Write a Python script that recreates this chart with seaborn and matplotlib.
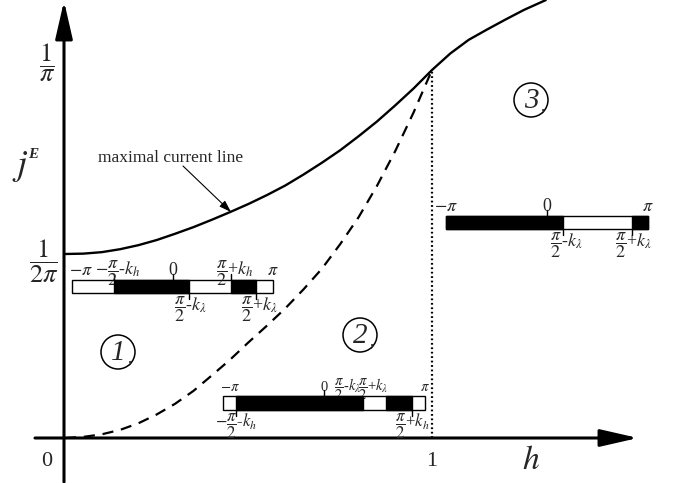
import numpy as np
import pandas as pd
import matplotlib
matplotlib.use("Agg")
import matplotlib.pyplot as plt
import seaborn as sns
from matplotlib.patches import Rectangle, Circle

# curves, j in units of 1/pi
h_dashed = [0.0, 0.05, 0.1, 0.15, 0.2, 0.25, 0.3, 0.35, 0.4, 0.45, 0.5,
            0.55, 0.6, 0.65, 0.7, 0.75, 0.8, 0.85, 0.9, 0.95, 1.0]
j_dashed = [0.0, 0.003, 0.01, 0.022, 0.04, 0.064, 0.093, 0.128, 0.17, 0.213, 0.26,
            0.305, 0.352, 0.404, 0.46, 0.527, 0.6, 0.685, 0.78, 0.885, 1.0]
h_solid = [0.0, 0.05, 0.1, 0.15, 0.2, 0.25, 0.3, 0.35, 0.4, 0.45, 0.5,
           0.55, 0.6, 0.65, 0.7, 0.75, 0.8, 0.85, 0.9, 0.95, 1.0,
           1.05, 1.1, 1.15, 1.2, 1.25, 1.31]
j_solid = [0.5, 0.501, 0.505, 0.513, 0.524, 0.538, 0.555, 0.573, 0.593, 0.614, 0.636,
           0.66, 0.686, 0.716, 0.748, 0.782, 0.82, 0.86, 0.904, 0.95, 1.0,
           1.045, 1.082, 1.11, 1.137, 1.163, 1.19]

# phase diagrams of the three regions
k_h = [0.27, 1.18]            # regions 1, 2
k_lam = [1.05, 0.37, 1.06]    # regions 1, 2, 3

MPI = r"$-\pi$"
PI = r"$\pi$"
ZERO = "0"
L_mh = r"$-\dfrac{\pi}{2}$-$k_h$"
L_ph = r"$\dfrac{\pi}{2}$+$k_h$"
L_ml = r"$\dfrac{\pi}{2}$-$k_\lambda$"
L_pl = r"$\dfrac{\pi}{2}$+$k_\lambda$"

sns.set_theme(style="white")
plt.rcParams["font.family"] = ["Liberation Serif", "DejaVu Serif"]
plt.rcParams["mathtext.fontset"] = "stix"

fig = plt.figure(figsize=(6.78, 4.83), dpi=100)
ax = fig.add_axes([0, 0, 1, 1])
ax.set_xlim(-65 / 367, 613 / 367)
ax.set_ylim(-45 / 368, 438 / 368)
ax.axis("off")

df_d = pd.DataFrame({"h": h_dashed, "j": j_dashed})
df_s = pd.DataFrame({"h": h_solid, "j": j_solid})
sns.lineplot(data=df_d, x="h", y="j", ax=ax, color="black", lw=1.6, estimator=None)
ax.lines[-1].set_dashes([5, 3.5])
sns.lineplot(data=df_s, x="h", y="j", ax=ax, color="black", lw=1.7, estimator=None)
ax.plot([1, 1], [0, 1], color="black", lw=1.6, ls=(0, (0.8, 1.2)))

# overlay in pixel coords for the sketch furniture
lay = fig.add_axes([0, 0, 1, 1])
lay.set_xlim(0, 678)
lay.set_ylim(483, 0)
lay.axis("off")
lay.patch.set_alpha(0)

arr = dict(arrowstyle="-|>,head_length=1.05,head_width=0.24", mutation_scale=22,
           lw=2.2, color="black", fc="black", shrinkA=0, shrinkB=0)
lay.annotate("", xy=(638, 438), xytext=(35, 438), arrowprops=arr)
lay.annotate("", xy=(64, 1), xytext=(64, 482), arrowprops=arr)

lay.text(47, 462, "0", fontsize=16, ha="center", va="center")
lay.text(432, 462, "1", fontsize=16, ha="center", va="center")
lay.text(531, 461, "$h$", fontsize=24, ha="center", va="center")
lay.text(47, 63, r"$\dfrac{1}{\pi}$", fontsize=19, ha="center", va="center")
lay.text(44, 261, r"$\dfrac{1}{2\pi}$", fontsize=19, ha="center", va="center")
lay.text(20, 167, "$j$", fontsize=26, ha="center", va="center")
lay.text(33, 155, "E", fontsize=11, fontweight="bold", style="italic", ha="center", va="center")

lay.text(98, 162, "maximal current line", fontsize=12.5, ha="left", va="baseline")
lay.annotate("", xy=(231, 212), xytext=(183, 166),
             arrowprops=dict(arrowstyle="-|>,head_length=0.6,head_width=0.2",
                             mutation_scale=12, lw=0.8, color="black", shrinkA=0, shrinkB=0))


def draw_bar(left, right, top, bottom, black, up, down, fs_up=13, fs_down=13):
    def X(t):
        return left + (t + np.pi) / (2 * np.pi) * (right - left)
    lay.add_patch(Rectangle((left, top), right - left, bottom - top,
                            fc="white", ec="black", lw=1, zorder=3))
    for a, b in black:
        lay.add_patch(Rectangle((X(a), top), X(b) - X(a), bottom - top,
                                fc="black", ec="black", lw=1, zorder=4))
    for t, txt, ha, dx, tick in up:
        if tick:
            lay.plot([X(t), X(t)], [top, top - 6], color="black", lw=1)
        lay.text(X(t) + dx, top - 5, txt, ha=ha, va="baseline", fontsize=fs_up)
    for t, txt, ha, dx, tick in down:
        if tick:
            lay.plot([X(t), X(t)], [bottom, bottom + 6], color="black", lw=1)
        lay.text(X(t) + dx, bottom + 18, txt, ha=ha, va="baseline", fontsize=fs_down)


hp = np.pi / 2
# region 1
kh, kl = k_h[0], k_lam[0]
draw_bar(72, 273, 280, 293,
         [(-hp - kh, hp - kl), (hp + kh, hp + kl)],
         [(-np.pi, MPI, "left", -3, False), (-hp - kh, L_mh, "center", 4, True),
          (0, ZERO, "center", 0, True), (hp + kh, L_ph, "center", 3, True),
          (np.pi, PI, "center", 0, False)],
         [(hp - kl, L_ml, "center", 1, True), (hp + kl, L_pl, "center", 3, True)])
# region 2
kh, kl = k_h[1], k_lam[1]
draw_bar(223, 425, 396, 410,
         [(-hp - kh, hp - kl), (hp + kl, hp + kh)],
         [(-np.pi, MPI, "left", -3, False), (0, ZERO, "center", 0, True),
          (hp - kl, L_ml, "right", -2, False), (hp + kl, L_pl, "right", 2, False),
          (np.pi, PI, "center", 0, False)],
         [(-hp - kh, L_mh, "center", 1, True), (hp + kh, L_ph, "center", 0, True)],
         fs_up=10.5, fs_down=12)
# region 3
kl = k_lam[2]
draw_bar(446, 648, 216, 229,
         [(-np.pi, hp - kl), (hp + kl, np.pi)],
         [(-np.pi, MPI, "center", 0, False), (0, ZERO, "center", 0, True),
          (np.pi, PI, "center", 0, False)],
         [(hp - kl, L_ml, "center", 3, True), (hp + kl, L_pl, "center", 2, True)])

for cx, cy, d in [(118, 352, "1"), (360, 335, "2"), (531, 100, "3")]:
    lay.add_patch(Circle((cx, cy), 17, fill=False, ec="black", lw=1.1))
    lay.text(cx, cy + 1, d, fontsize=21, style="italic", ha="center", va="center")
    lay.text(cx + 12, cy + 6, ",", fontsize=13, ha="center", va="center")

fig.savefig("out.png", dpi=100)
